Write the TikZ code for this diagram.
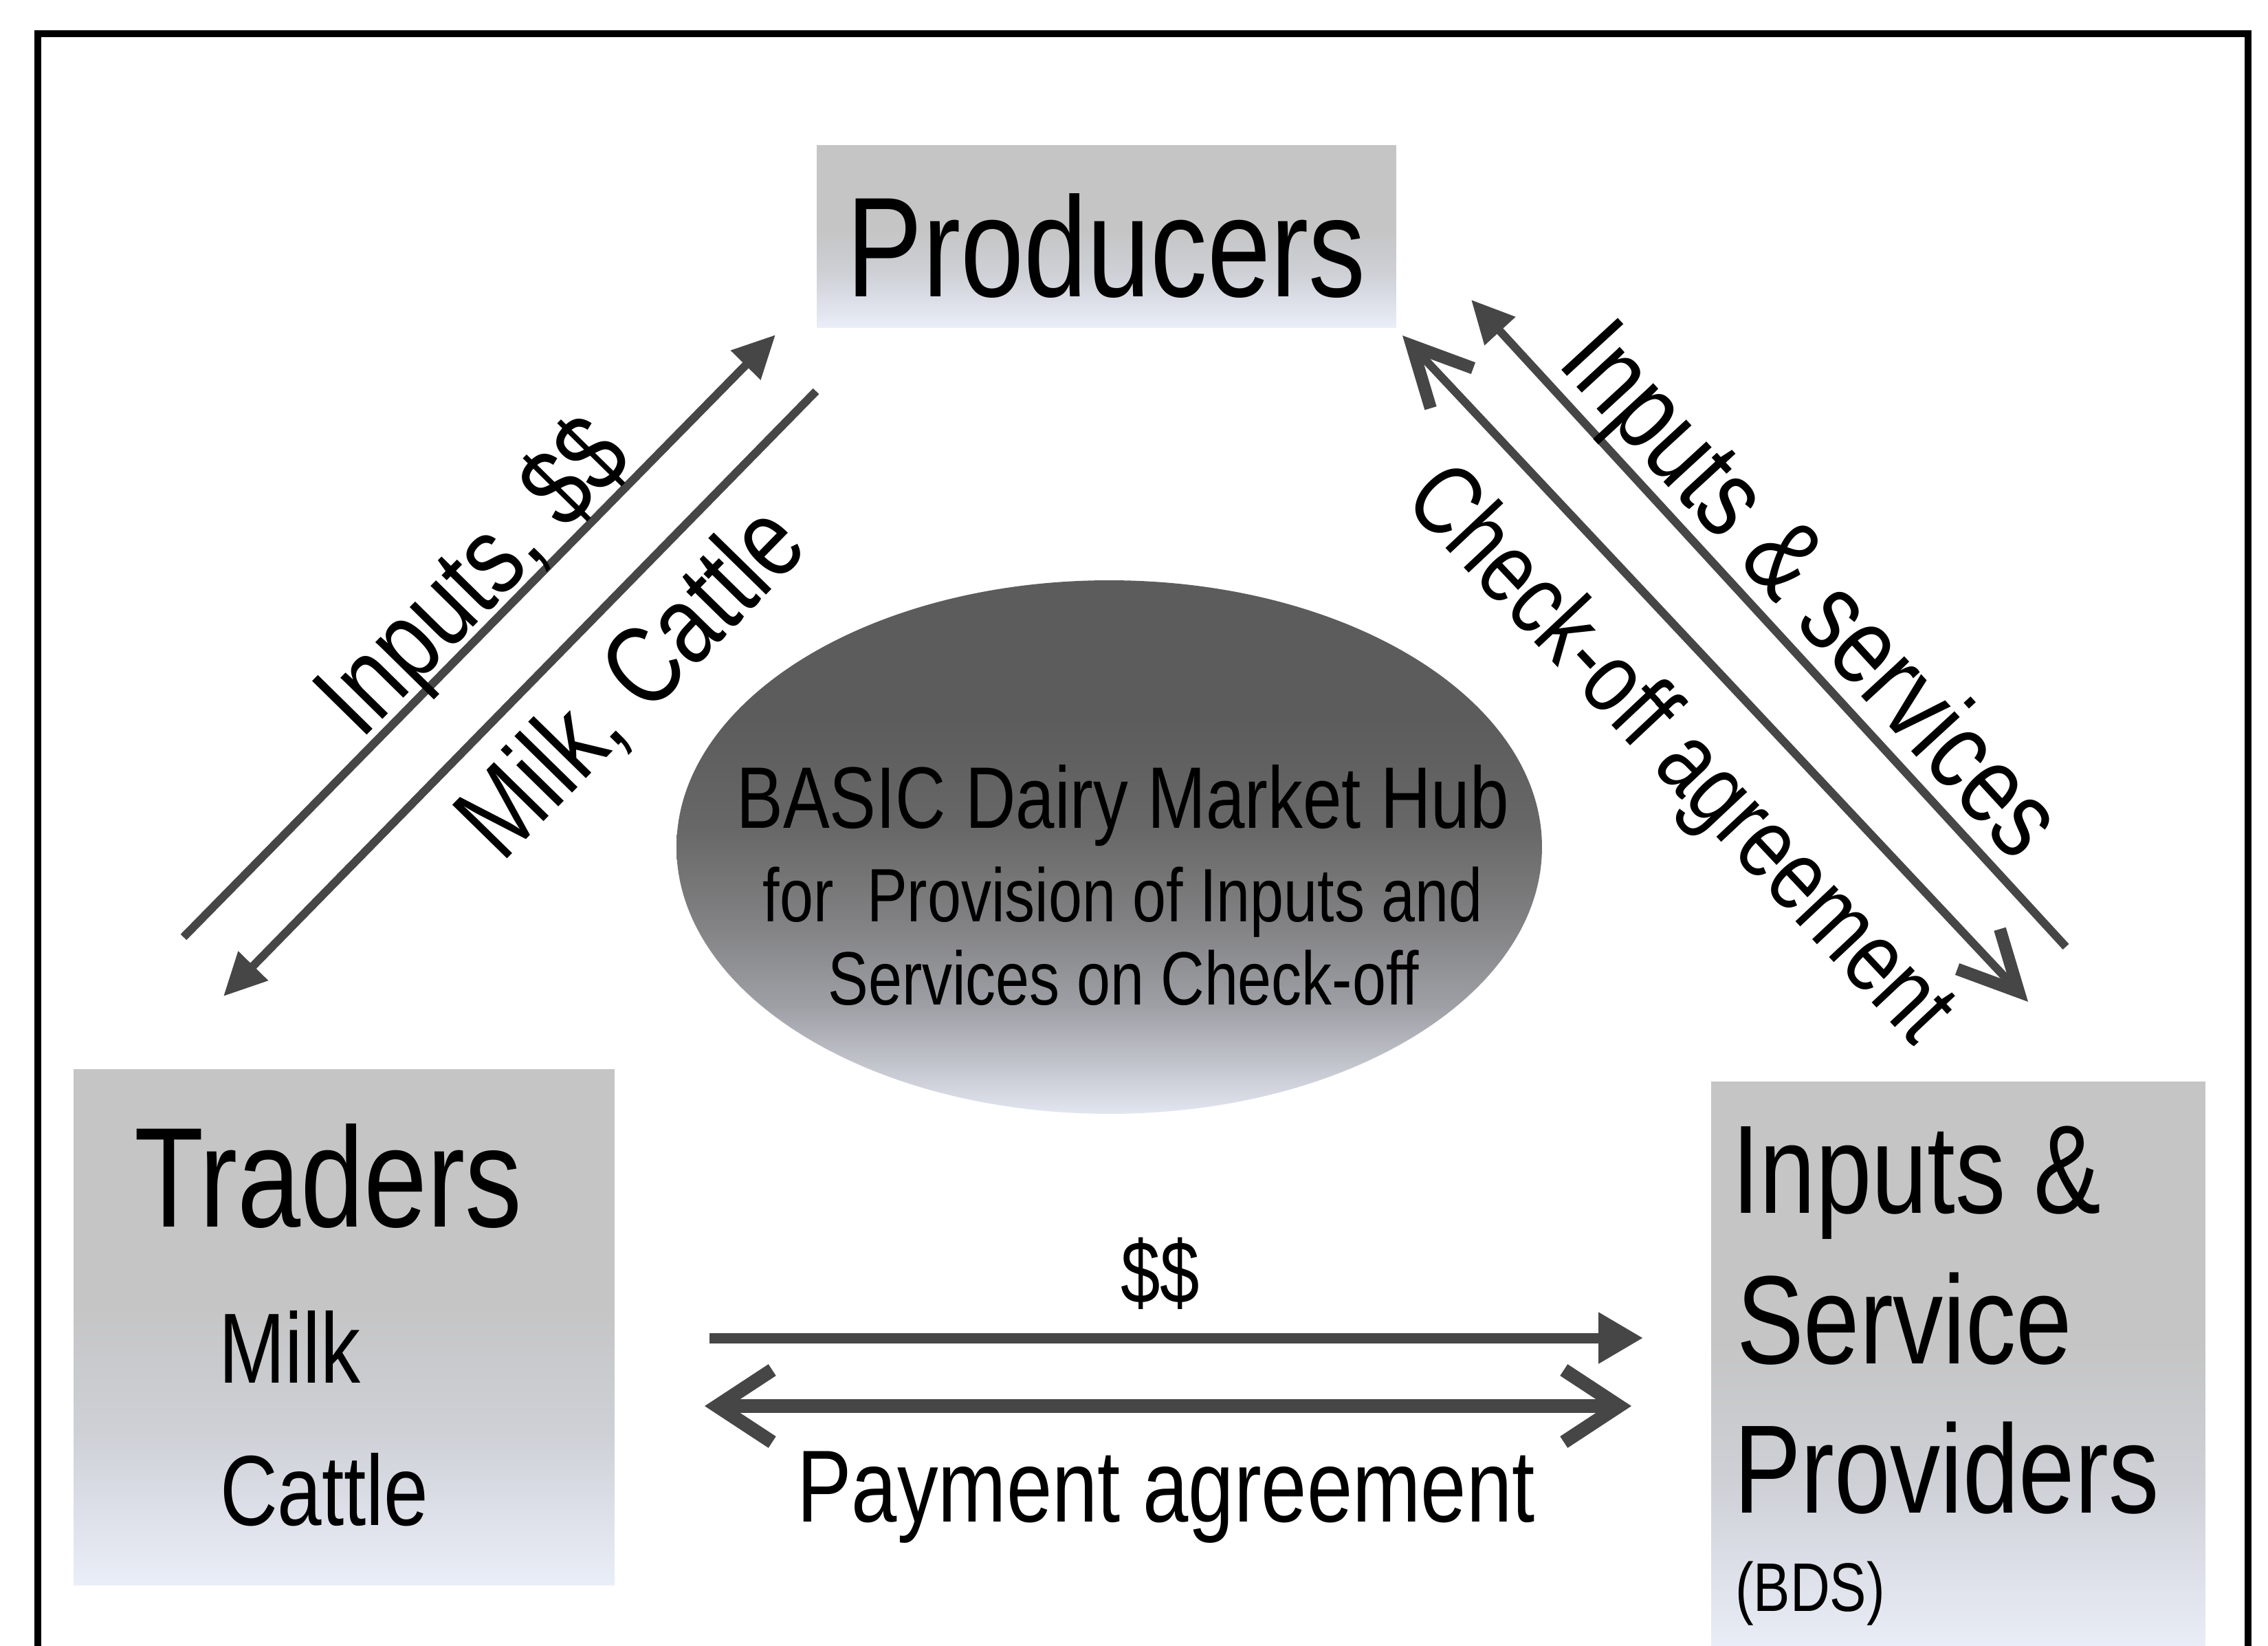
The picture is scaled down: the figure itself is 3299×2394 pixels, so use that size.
\documentclass[tikz,border=0pt]{standalone}
\usepackage{fontspec}
\setmainfont{Liberation Sans}[FakeStretch=0.80]
\usetikzlibrary{arrows.meta}
\usetikzlibrary{shapes.geometric}

\definecolor{flowgray}{RGB}{70,70,70}
\definecolor{boxtop}{RGB}{197,197,197}
\definecolor{boxmid}{RGB}{206,208,214}
\definecolor{boxbot}{RGB}{234,238,248}
\definecolor{hubtop}{RGB}{92,92,92}
\definecolor{hubupper}{RGB}{103,103,103}
\definecolor{hubmid}{RGB}{129,129,131}
\definecolor{hublow}{RGB}{159,160,166}
\definecolor{hubpale}{RGB}{192,194,202}
\definecolor{hubbot}{RGB}{226,230,240}

% grey boxes fade to a pale blue at the bottom, the hub from dark grey
\pgfdeclareverticalshading{entityshade}{100bp}{color(0bp)=(boxbot); color(25bp)=(boxbot); color(40bp)=(boxmid); color(52bp)=(boxtop); color(100bp)=(boxtop)}
\pgfdeclareverticalshading{hubshade}{100bp}{color(0bp)=(hubbot); color(25bp)=(hubbot); color(30bp)=(hubpale); color(35bp)=(hublow); color(43bp)=(hubmid); color(52bp)=(hubupper); color(62bp)=(hubtop); color(100bp)=(hubtop)}

\begin{document}
\begin{tikzpicture}[x=0.1pt,y=0.1pt,yscale=-1,
  entity/.style={rectangle, draw=none, inner sep=0pt, shade, shading=entityshade},
  hub/.style={ellipse, draw=none, inner sep=0pt, shade, shading=hubshade},
  flow/.style={draw=flowgray, line width=1.2pt},
  txt/.style={inner sep=0pt, text=black},
  headfont/.style={font=\fontsize{20.7}{24}\selectfont},
  itemfont/.style={font=\fontsize{14.5}{17}\selectfont},
  bdsfont/.style={font=\fontsize{18.3}{22}\selectfont},
  diagfont/.style={font=\fontsize{16.2}{19}\selectfont}]
\useasboundingbox (0,0) rectangle (3299,2394);
\fill[white] (0,0) rectangle (3299,2394);

%Shape: Frame, open at the bottom
\draw[line width=1pt] (55,2394) -- (55,49) -- (3270,49) -- (3270,2394);

%Shape: Boxes
\node[entity, minimum width=84.3pt, minimum height=26.6pt] (producers) at (1609.5,344) {};
\node[entity, minimum width=78.7pt, minimum height=75.1pt] (traders) at (500.5,1930.5) {};
\node[entity, minimum width=71.9pt, minimum height=83pt] (providers) at (2848.5,1988) {};

%Shape: Ellipse
\node[hub, minimum width=125.9pt, minimum height=77.6pt] (hub) at (1613.5,1232) {};

% Text Node
\node[txt, headfont, anchor=base] (producerslabel) at (1609,431) {Producers};
% Text Node
\node[txt, headfont, anchor=base west] (traderslabel) at (193,1784) {Traders};
\node[txt, itemfont, anchor=base west] (milklabel) at (316,2011) {Milk};
\node[txt, itemfont, anchor=base west] (cattlelabel) at (318,2218) {Cattle};
% Text Node
\node[txt, bdsfont, anchor=base west] (inputslabel) at (2517,1764) {Inputs \&};
\node[txt, bdsfont, anchor=base west] (servicelabel) at (2524,1983) {Service};
\node[txt, bdsfont, anchor=base west] (providerslabel) at (2520,2200) {Providers};
\node[txt, anchor=base west, font=\fontsize{10}{12}\selectfont] (bdslabel) at (2522,2343) {(BDS)};
% Text Node
\node[txt, anchor=base, font=\fontsize{12.7}{15}\selectfont] (hubtitle) at (1633,1204) {BASIC Dairy Market Hub};
\node[txt, anchor=base, font=\fontsize{11}{13}\selectfont] (hubline) at (1633,1340) {for\ \ Provision of Inputs and};
\node[txt, anchor=base, font=\fontsize{11}{13}\selectfont] (hubcheck) at (1634,1461) {Services on Check-off};

%Straight Lines: traders and producers
\coordinate (trinA) at (267,1363);
\coordinate (trinB) at (1128,487);
\coordinate (milkA) at (325,1449);
\coordinate (milkB) at (1187,569);
\draw[flow, -{Triangle[length=6.2pt,width=5.8pt]}] (trinA) -- (trinB);
\draw[flow, {Triangle[length=6.2pt,width=5.8pt]}-] (milkA) -- (milkB);
% Text Node
\node[txt, diagfont, anchor=base, rotate=45.5] (trinlabel) at (725,875) {Inputs, \$\$};
\node[txt, diagfont, anchor=base, rotate=45.6] (milkcattle) at (955,1028) {Milk, Cattle};

%Straight Lines: providers and producers
\coordinate (srvA) at (2140,436);
\coordinate (srvB) at (3005,1377);
\coordinate (chkA) at (2040,488);
\coordinate (chkB) at (2950,1457);
\draw[flow, {Triangle[length=6.2pt,width=5.8pt]}-] (srvA) -- (srvB);
\draw[flow, {Straight Barb[length=8.5pt,width=8.5pt,line width=1.8pt]}-{Straight Barb[length=8.5pt,width=8.5pt,line width=1.8pt]}] (chkA) -- (chkB);
% Text Node
\node[txt, diagfont, anchor=base, rotate=-47.4] (srvlabel) at (2597,893) {Inputs \& services};
\node[txt, anchor=base, rotate=-46.8, font=\fontsize{14.6}{17}\selectfont] (chklabel) at (2412,1127) {Check-off agreement};

%Straight Lines: traders and providers
\coordinate (payA) at (1032,1946);
\coordinate (payB) at (2390,1946);
\coordinate (agrA) at (1025,2045);
\coordinate (agrB) at (2373,2045);
\draw[flow, line width=1.5pt, -{Triangle[length=6.5pt,width=7.1pt]}] (payA) -- (payB);
\draw[flow, line width=2pt, {Straight Barb[length=8pt,width=10.5pt]}-{Straight Barb[length=8pt,width=10.5pt]}] (agrA) -- (agrB);
% Text Node
\node[txt, anchor=base, font=\fontsize{12.9}{15}\selectfont] (paylabel) at (1688,1895) {\$\$};
\node[txt, anchor=base, font=\fontsize{14.9}{18}\selectfont] (agrlabel) at (1696,2213) {Payment agreement};

\end{tikzpicture}
\end{document}
